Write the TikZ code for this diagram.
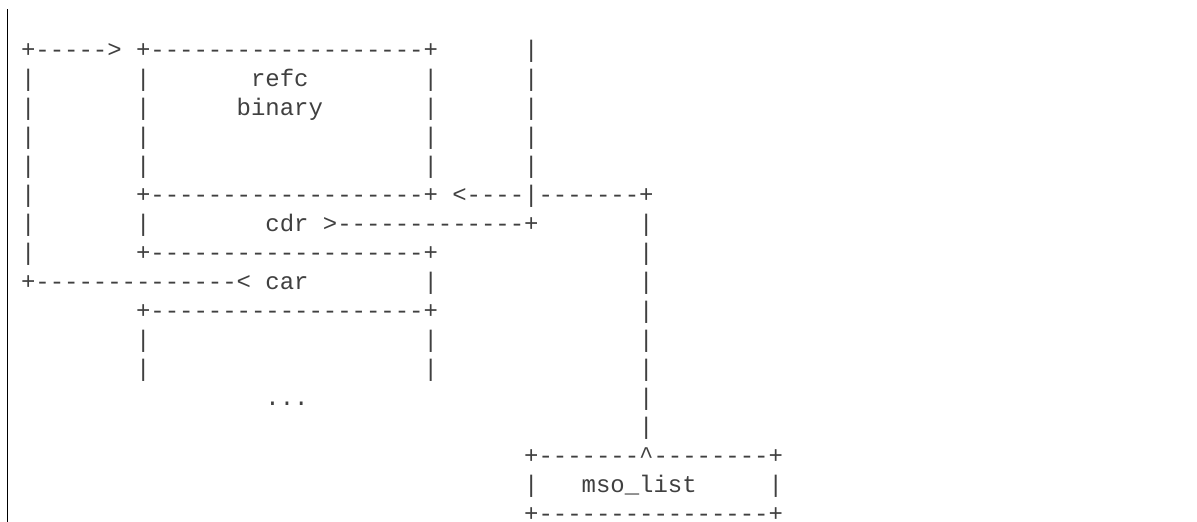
\documentclass[tikz,border=0pt]{standalone}
\usepackage{fontspec}
\setmonofont{Liberation Mono}
\definecolor{ink}{HTML}{404040}
\tikzset{
  asc/.style={anchor=base west, inner sep=0pt, outer sep=0pt, text=ink,
    text depth=0pt, font=\ttfamily\fontsize{23.96}{29}\selectfont},
  rule/.style={line width=1.3pt, draw=black}
}
% fragment: name, column, row, text
\newcommand\frag[4]{\node[asc] (#1) at ({21.1+14.375*#2},{57.5+29*#3}) {#4};}
\begin{document}
\begin{tikzpicture}[x=1pt,y=-1pt]
\useasboundingbox (0,0) rectangle (1197,522);
\coordinate (bartop) at (7.3,9);
\coordinate (barbot) at (7.3,522);
\draw[rule] (bartop) -- (barbot);
% row 0
\frag{a0}{0}{0}{+-----{}>}
\frag{b0}{8}{0}{+-------------------+}
\frag{c0}{35}{0}{|}
% rows 1-4
\frag{a1}{0}{1}{|}\frag{b1}{8}{1}{|}\frag{refc}{16}{1}{refc}\frag{d1}{28}{1}{|}\frag{c1}{35}{1}{|}
\frag{a2}{0}{2}{|}\frag{b2}{8}{2}{|}\frag{binary}{15}{2}{binary}\frag{d2}{28}{2}{|}\frag{c2}{35}{2}{|}
\frag{a3}{0}{3}{|}\frag{b3}{8}{3}{|}\frag{d3}{28}{3}{|}\frag{c3}{35}{3}{|}
\frag{a4}{0}{4}{|}\frag{b4}{8}{4}{|}\frag{d4}{28}{4}{|}\frag{c4}{35}{4}{|}
% row 5
\frag{a5}{0}{5}{|}
\frag{b5}{8}{5}{+-------------------+}
\frag{e5}{30}{5}{<----|-------+}
% row 6
\frag{a6}{0}{6}{|}\frag{b6}{8}{6}{|}
\frag{cdr}{17}{6}{cdr}
\frag{e6}{21}{6}{>-------------+}
\frag{f6}{43}{6}{|}
% row 7
\frag{a7}{0}{7}{|}
\frag{b7}{8}{7}{+-------------------+}
\frag{f7}{43}{7}{|}
% row 8
\frag{a8}{0}{8}{+--------------<}
\frag{car}{17}{8}{car}
\frag{d8}{28}{8}{|}\frag{f8}{43}{8}{|}
% row 9-11
\frag{b9}{8}{9}{+-------------------+}\frag{f9}{43}{9}{|}
\frag{b10}{8}{10}{|}\frag{d10}{28}{10}{|}\frag{f10}{43}{10}{|}
\frag{b11}{8}{11}{|}\frag{d11}{28}{11}{|}\frag{f11}{43}{11}{|}
% row 12-13
\frag{dots}{17}{12}{...}\frag{f12}{43}{12}{|}
\frag{f13}{43}{13}{|}
% mso_list box
\frag{m14}{35}{14}{+-------\textasciicircum--------+}
\frag{m15a}{35}{15}{|}
\frag{mso}{39}{15}{mso\_list}
\frag{m15b}{52}{15}{|}
\frag{m16}{35}{16}{+----------------+}
\end{tikzpicture}
\end{document}
